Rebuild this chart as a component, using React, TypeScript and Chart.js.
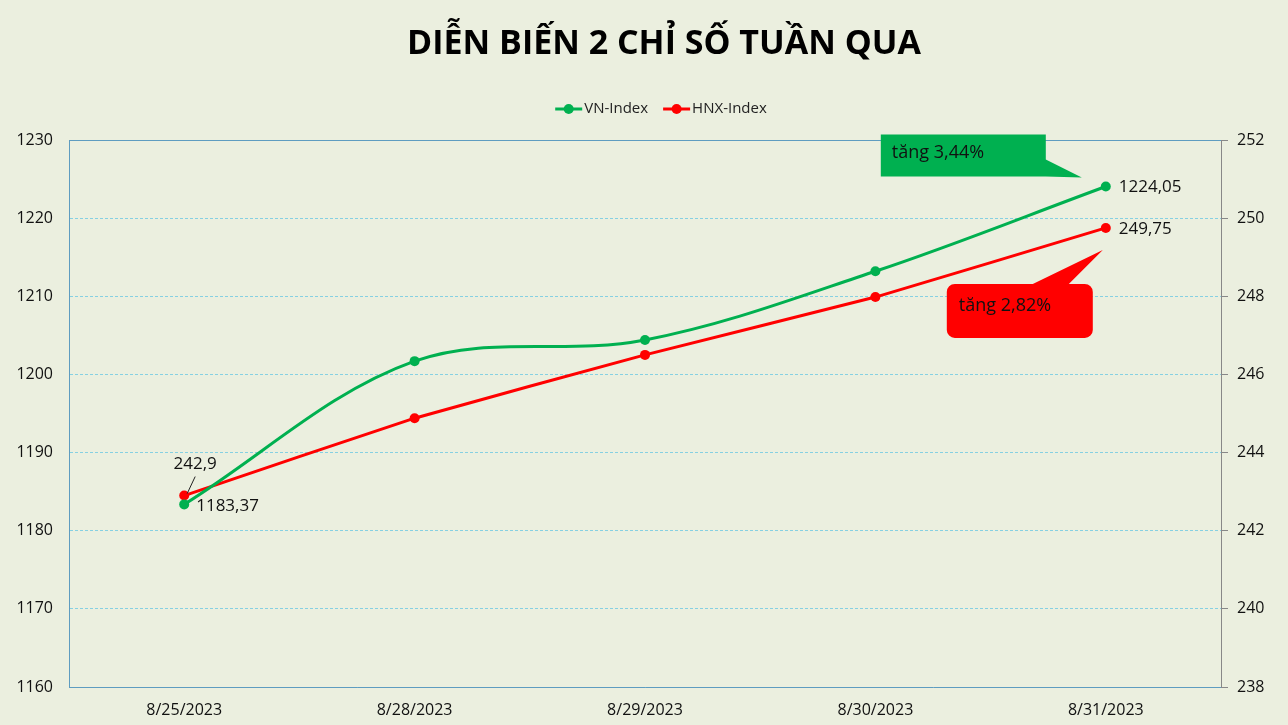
import { useEffect, useRef } from "react"
import { Chart, registerables } from "chart.js"

Chart.register(...registerables)

const TITLE = "DIỄN BIẾN 2 CHỈ SỐ TUẦN QUA"
const dates = ["8/25/2023", "8/28/2023", "8/29/2023", "8/30/2023", "8/31/2023"]
const vnIndex = [1183.37, 1201.7, 1204.4, 1213.2, 1224.05]
const hnxIndex = [242.9, 244.88, 246.5, 247.98, 249.75]
const vnCallout = "tăng 3,44%"
const hnxCallout = "tăng 2,82%"

const GREEN = "#00B050"
const RED = "#FF0000"
const BG = "#EBEFDF"
const FONT = "'Open Sans', 'Noto Sans', sans-serif"

const fmt = (v: number) => String(v).replace(".", ",")

const extrasPlugin = {
  id: "extras",
  beforeDraw(chart: any) {
    const { ctx, width, height } = chart
    ctx.save()
    ctx.fillStyle = BG
    ctx.fillRect(0, 0, width, height)
    ctx.restore()
  },
  beforeDatasetsDraw(chart: any) {
    const { ctx, chartArea } = chart
    ctx.save()
    ctx.strokeStyle = "#5E9CC0"
    ctx.lineWidth = 1
    ctx.beginPath()
    ctx.moveTo(chartArea.left, chartArea.top + 0.5)
    ctx.lineTo(chartArea.right, chartArea.top + 0.5)
    ctx.stroke()
    ctx.restore()
  },
  afterDraw(chart: any) {
    const { ctx, width } = chart
    ctx.save()
    // title (Excel places it a little right of centre)
    ctx.fillStyle = "#000"
    ctx.font = `bold 34px ${FONT}`
    ctx.textAlign = "center"
    ctx.textBaseline = "alphabetic"
    ctx.fillText(TITLE, width / 2 + 20, 54)

    // legend
    ctx.font = `15px ${FONT}`
    ctx.textBaseline = "middle"
    ctx.textAlign = "left"
    const items = chart.data.datasets.map((d: any) => ({ text: d.label, color: d.borderColor }))
    const mw = 27
    const gap = 2
    const sep = 15
    const widths = items.map((it: any) => mw + gap + ctx.measureText(it.text).width)
    const total = widths.reduce((a: number, b: number) => a + b, 0) + sep * (items.length - 1)
    let x = width / 2 + 17 - total / 2
    const y = 109
    items.forEach((it: any, i: number) => {
      ctx.strokeStyle = it.color
      ctx.fillStyle = it.color
      ctx.lineWidth = 3
      ctx.beginPath()
      ctx.moveTo(x, y)
      ctx.lineTo(x + mw, y)
      ctx.stroke()
      ctx.beginPath()
      ctx.arc(x + mw / 2, y, 5, 0, Math.PI * 2)
      ctx.fill()
      ctx.fillStyle = "#222"
      ctx.fillText(it.text, x + mw + gap, y)
      x += widths[i] + sep
    })
    ctx.restore()
  },
  afterDatasetsDraw(chart: any) {
    const { ctx } = chart
    const vn = chart.getDatasetMeta(0).data
    const hnx = chart.getDatasetMeta(1).data
    const last = vn.length - 1
    ctx.save()
    ctx.font = `17px ${FONT}`
    ctx.fillStyle = "#111"
    ctx.textBaseline = "middle"
    ctx.textAlign = "left"
    ctx.fillText(fmt(vnIndex[0]), vn[0].x + 12, vn[0].y + 2)
    ctx.fillText(fmt(vnIndex[last]), vn[last].x + 13, vn[last].y + 1)
    ctx.fillText(fmt(hnxIndex[last]), hnx[last].x + 13, hnx[last].y + 1)
    ctx.textAlign = "center"
    ctx.fillText(fmt(hnxIndex[0]), hnx[0].x + 11, hnx[0].y - 31)
    ctx.strokeStyle = "#222"
    ctx.lineWidth = 1
    ctx.beginPath()
    ctx.moveTo(hnx[0].x + 11, hnx[0].y - 19)
    ctx.lineTo(hnx[0].x + 3, hnx[0].y - 2)
    ctx.stroke()

    // green callout
    const gp = vn[last]
    const gx = gp.x - 225
    const gy = gp.y - 52
    ctx.fillStyle = GREEN
    ctx.beginPath()
    ctx.moveTo(gx, gy)
    ctx.lineTo(gx + 165, gy)
    ctx.lineTo(gx + 165, gy + 25)
    ctx.lineTo(gp.x - 24, gp.y - 9)
    ctx.lineTo(gx + 165, gy + 42)
    ctx.lineTo(gx, gy + 42)
    ctx.closePath()
    ctx.fill()
    ctx.fillStyle = "#111"
    ctx.textAlign = "left"
    ctx.font = `18px ${FONT}`
    ctx.fillText(vnCallout, gx + 11, gy + 18)

    // red callout
    const rp = hnx[last]
    const rx = rp.x - 159
    const ry = rp.y + 56
    const rw = 146
    const rh = 54
    const r = 8
    ctx.fillStyle = RED
    ctx.beginPath()
    ctx.moveTo(rx + r, ry)
    ctx.lineTo(rp.x - 73, ry)
    ctx.lineTo(rp.x - 3, rp.y + 22)
    ctx.lineTo(rp.x - 37, ry)
    ctx.lineTo(rx + rw - r, ry)
    ctx.arcTo(rx + rw, ry, rx + rw, ry + r, r)
    ctx.lineTo(rx + rw, ry + rh - r)
    ctx.arcTo(rx + rw, ry + rh, rx + rw - r, ry + rh, r)
    ctx.lineTo(rx + r, ry + rh)
    ctx.arcTo(rx, ry + rh, rx, ry + rh - r, r)
    ctx.lineTo(rx, ry + r)
    ctx.arcTo(rx, ry, rx + r, ry, r)
    ctx.closePath()
    ctx.fill()
    ctx.fillStyle = "#111"
    ctx.fillText(hnxCallout, rx + 12, ry + 22)
    ctx.restore()
  },
}

export default function App() {
  const chartRef = useRef<HTMLCanvasElement>(null)
  const chartInstance = useRef<Chart | null>(null)

  useEffect(() => {
    document.body.style.margin = "0"
    document.body.style.background = BG
    if (!chartRef.current) return
    const ctx = chartRef.current.getContext("2d")
    if (!ctx) return
    if (chartInstance.current) chartInstance.current.destroy()

    chartInstance.current = new Chart(ctx, {
      type: "line",
      data: {
        labels: dates,
        datasets: [
          {
            label: "VN-Index",
            data: vnIndex,
            yAxisID: "y",
            borderColor: GREEN,
            backgroundColor: GREEN,
            borderWidth: 3,
            pointRadius: 5,
            pointBorderWidth: 0,
            tension: 0.35,
          },
          {
            label: "HNX-Index",
            data: hnxIndex,
            yAxisID: "y1",
            borderColor: RED,
            backgroundColor: RED,
            borderWidth: 3,
            pointRadius: 5,
            pointBorderWidth: 0,
            tension: 0.08,
          },
        ],
      },
      options: {
        animation: false,
        responsive: true,
        maintainAspectRatio: false,
        layout: { padding: { top: 140 } },
        plugins: {
          title: { display: false },
          legend: { display: false },
          tooltip: { enabled: false },
        },
        scales: {
          x: {
            offset: true,
            afterFit(s: any) {
              s.height = 38
            },
            grid: { display: true, drawOnChartArea: false, drawTicks: false },
            border: { display: true, color: "#5E9CC0" },
            ticks: { color: "#111", font: { family: FONT, size: 16 }, padding: 14 },
          },
          y: {
            position: "left",
            min: 1160,
            max: 1230,
            afterFit(s: any) {
              s.width = 69
            },
            ticks: {
              stepSize: 10,
              color: "#111",
              font: { family: FONT, size: 16 },
              padding: 16,
              callback: (v: any) => String(v),
            },
            grid: { color: "#86D0E2", drawTicks: false },
            border: { color: "#5E9CC0", dash: [3, 2] },
          },
          y1: {
            position: "right",
            min: 238,
            max: 252,
            afterFit(s: any) {
              s.width = 67
            },
            ticks: {
              stepSize: 2,
              color: "#111",
              font: { family: FONT, size: 16 },
              padding: 9,
              callback: (v: any) => String(v),
            },
            grid: { drawOnChartArea: false, drawTicks: true, tickLength: 7, color: "#888" },
            border: { color: "#888" },
          },
        },
      },
      plugins: [extrasPlugin],
    })

    return () => {
      if (chartInstance.current) {
        chartInstance.current.destroy()
        chartInstance.current = null
      }
    }
  }, [])

  return (
    <div style={{ width: 1288, height: 725, position: "relative" }}>
      <canvas ref={chartRef} />
    </div>
  )
}
